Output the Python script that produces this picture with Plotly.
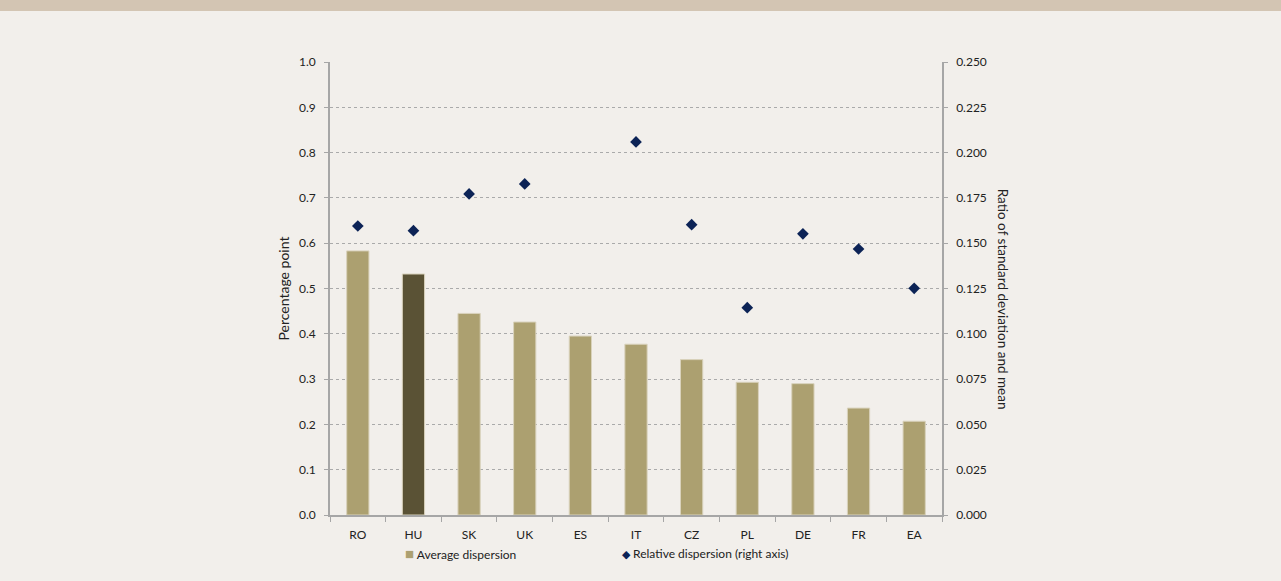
#import libraries for the visualization
import plotly.graph_objects as go

#data
countries = ['RO', 'HU', 'SK', 'UK', 'ES', 'IT', 'CZ', 'PL', 'DE', 'FR', 'EA']
avg_dispersion = [0.583, 0.532, 0.445, 0.426, 0.395, 0.377, 0.343, 0.293, 0.290, 0.236, 0.207]
rel_dispersion = [0.1595, 0.1569, 0.1772, 0.1827, None, 0.2059, 0.1602, 0.1144, 0.1552, 0.1468, 0.1251]
left_ticks = [0.0, 0.1, 0.2, 0.3, 0.4, 0.5, 0.6, 0.7, 0.8, 0.9, 1.0]
right_ticks = [0.0, 0.025, 0.05, 0.075, 0.1, 0.125, 0.15, 0.175, 0.2, 0.225, 0.25]

bar_col = '#aca070'
hu_col = '#5a5235'
dot_col = '#0c2356'
font_fam = 'Lato, Open Sans, sans-serif'

colors = [hu_col if c == 'HU' else bar_col for c in countries]

fig = go.Figure()
#bars for the average dispersion
fig.add_trace(go.Bar(x=countries, y=avg_dispersion, marker=dict(color=colors, line=dict(color='#d9d2bc', width=1)),
                     width=0.4, showlegend=False, name='Average dispersion'))
#diamonds for the relative dispersion on the right axis
fig.add_trace(go.Scatter(x=countries, y=rel_dispersion, mode='markers', name='Relative dispersion (right axis)',
                         marker=dict(symbol='diamond', color=dot_col, size=9), yaxis='y2', showlegend=False))

#legend drawn as text so the symbol sits close to the label
legend_items = [
    (0.119, f"<span style='color:{bar_col};font-size:15px'>■</span> Average dispersion"),
    (0.474, f"<span style='color:{dot_col};font-size:11px'>◆</span> Relative dispersion (right axis)"),
]
annotations = [dict(x=lx, y=-0.084, xref='paper', yref='paper', xanchor='left', yanchor='middle',
                    text=txt, showarrow=False, font=dict(size=12)) for lx, txt in legend_items]
#right axis title reads top to bottom
annotations.append(dict(x=1.1, y=0.477, xref='paper', yref='paper', xanchor='center', yanchor='middle',
                        textangle=90, showarrow=False,
                        text='Ratio of standard deviation and mean', font=dict(size=13.5)))

fig.update_layout(
    width=1281, height=581,
    margin=dict(l=330, r=339, t=62, b=66),
    paper_bgcolor='#f2efeb', plot_bgcolor='#f2efeb',
    font=dict(family=font_fam, size=12, color='#222222'),
    showlegend=False,
    xaxis=dict(showline=True, linecolor='#a6a6a6', linewidth=1.5, ticks='outside', ticklen=5,
               tickcolor='#a6a6a6', showgrid=False, tickson='boundaries', range=[-0.5, 10.5],
               ticklabelstandoff=8),
    yaxis=dict(range=[0, 1.0], tickvals=left_ticks, tickformat='.1f', showline=True, linecolor='#a6a6a6',
               linewidth=1.5, ticks='outside', ticklen=4, tickcolor='#a6a6a6', showgrid=True,
               gridcolor='#aaaaaa', griddash='dot', gridwidth=1, zeroline=False, ticklabelstandoff=6,
               title=dict(text='Percentage point', standoff=6)),
    yaxis2=dict(range=[0, 0.25], tickvals=right_ticks, tickformat='.3f', overlaying='y', side='right',
                showline=True, linecolor='#a6a6a6', linewidth=1.5, ticks='outside', ticklen=4,
                tickcolor='#a6a6a6', showgrid=False, zeroline=False, ticklabelstandoff=6),
    annotations=annotations,
    shapes=[dict(type='rect', xref='paper', yref='paper', x0=-1, x1=2, y0=1 + 51 / 453, y1=1 + 62 / 453,
                 fillcolor='#d3c5b3', line=dict(width=0), layer='below')],
)

fig.write_html("out.html", config={'displayModeBar': False}, post_script="document.body.style.margin='0';")
